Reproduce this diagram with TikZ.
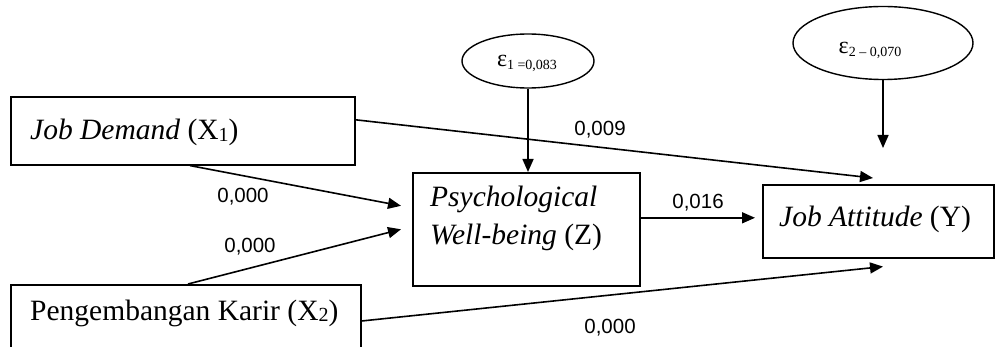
\documentclass[tikz,border=0pt]{standalone}
\usepackage{fontspec}
\setmainfont{Liberation Serif}
\newfontfamily\lblfont{Liberation Sans}
\usetikzlibrary{shapes.geometric,arrows.meta,calc}
\tikzset{
  boxnode/.style={draw, line width=1.6pt, rectangle, inner sep=0pt, anchor=north west},
  errnode/.style={draw, line width=1.4pt, ellipse, inner sep=0pt},
  boxtext/.style={anchor=base west, inner sep=0pt, font=\fontsize{29.5}{34}\selectfont},
  errtext/.style={inner sep=0pt},
  lbl/.style={inner sep=0pt, font=\lblfont\fontsize{20.5}{24}\selectfont},
  arr/.style={line width=1.6pt, -{Triangle[length=13pt,width=11pt]}}
}
\newcommand{\subnum}[1]{\raisebox{-1.5pt}{\fontsize{20}{22}\selectfont #1}}
\begin{document}
\begin{tikzpicture}[x=1pt,y=-1pt]
\useasboundingbox (0,0) rectangle (995,347);
% boxes
\node[boxnode, minimum width=344pt, minimum height=68pt] (jd) at (10,96) {};
\node[boxnode, minimum width=227pt, minimum height=113pt] (ps) at (412,172) {};
\node[boxnode, minimum width=231pt, minimum height=73pt] (ja) at (762,184) {};
\node[boxnode, minimum width=350pt, minimum height=120pt] (pk) at (10,284) {};
% box texts
\node[boxtext] (jdt) at (30,140) {\textit{Job Demand} (X\subnum{1})};
\node[boxtext] (pst1) at (430,207) {\textit{Psychological}};
\node[boxtext] (pst2) at (430,245) {\textit{Well-being} (Z)};
\node[boxtext] (jat) at (779,227) {\textit{Job Attitude} (Y)};
\node[boxtext] (pkt) at (30,320) {Pengembangan Karir (X\subnum{2})};
% error terms
\node[errnode, minimum width=132pt, minimum height=54pt] (e1) at (528,61) {};
\node[errtext] (e1t) at (527,63)
  {\fontsize{24}{26}\selectfont ε\raisebox{-3pt}{\fontsize{14}{15}\selectfont 1 =0,083}};
\node[errnode, minimum width=180pt, minimum height=73pt] (e2) at (883,43) {};
\node[errtext] (e2t) at (870,50)
  {\fontsize{24}{26}\selectfont ε\raisebox{-3pt}{\fontsize{14}{15}\selectfont 2 – 0,070}};
\coordinate (e2end) at (883,148);
% connectors
\draw[arr] (e1.south) -- (e1.south |- ps.north);
\draw[arr] (e2.south) -- (e2end);
\draw[arr] ([yshift=11pt]jd.east) -- ([xshift=111pt,yshift=6pt]ja.north west);
\draw[arr] ([xshift=180pt]jd.south west) -- ([xshift=-11pt,yshift=23.5pt]ps.west);
\draw[arr] ([xshift=178pt]pk.north west) -- ([xshift=-11pt]ps.west);
\draw[arr] ([yshift=-37pt]pk.north east) -- ([xshift=121pt,yshift=-8pt]ja.south west);
\draw[arr, shorten >=7pt] ([yshift=11.5pt]ps.east) -- ([yshift=3.5pt]ja.west);
% labels
\node[lbl] (l1) at (600,130) {0,009};
\node[lbl] (l2) at (243,197) {0,000};
\node[lbl] (l3) at (250,247) {0,000};
\node[lbl] (l4) at (698,203) {0,016};
\node[lbl] (l5) at (610,328) {0,000};
\end{tikzpicture}
\end{document}
